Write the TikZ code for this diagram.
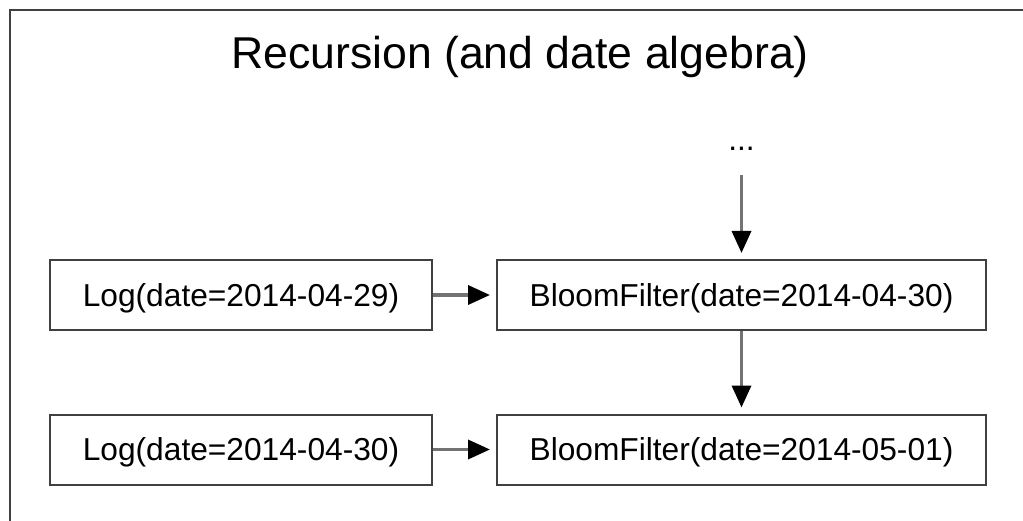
\documentclass[tikz,border=0pt]{standalone}
\usepackage{fontspec}
\setmainfont{Liberation Sans}
\usetikzlibrary{arrows.meta}

\tikzset{
  stagebox/.style={draw=black!75, line width=2pt, fill=white, inner sep=0pt,
    minimum height=70pt, text height=22.8pt, text depth=0pt,
    font=\fontsize{31.7}{38}\selectfont},
  logbox/.style={stagebox, minimum width=382pt},
  bloombox/.style={stagebox, minimum width=489pt},
  flow/.style={draw=black!55, line width=3.5pt,
    -{Triangle[length=22pt, width=19pt, color=black]}, shorten >=6pt},
}

\begin{document}
\begin{tikzpicture}[x=1pt, y=-1pt]
  \useasboundingbox (0,0) rectangle (1023,521);
  \clip (0,0) rectangle (1023,521);

  % enclosing frame, running off the right and bottom edges
  \draw[black!75, line width=2pt] (10,10) rectangle (1060,560);

  % title
  \node[anchor=base, font=\fontsize{44.6}{53}\selectfont] (title) at (520,69)
    {Recursion (and date algebra)};

  % tasks
  \node[logbox]   (log1) at (241,295)   {Log(date=2014-04-29)};
  \node[bloombox] (bf1)  at (741.5,295) {BloomFilter(date=2014-04-30)};
  \node[logbox]   (log2) at (241,449.5)   {Log(date=2014-04-30)};
  \node[bloombox] (bf2)  at (741.5,449.5) {BloomFilter(date=2014-05-01)};

  % earlier dates, elided
  \node[anchor=base, inner sep=0pt, font=\fontsize{31.7}{38}\selectfont]
    (dots) at (741.5,151) {...};

  % dependencies
  \draw[flow, shorten <=24pt] (dots.south) -- (bf1.north);
  \draw[flow] (log1.east) -- (bf1.west);
  \draw[flow] (bf1.south) -- (bf2.north);
  \draw[flow] (log2.east) -- (bf2.west);
\end{tikzpicture}
\end{document}
